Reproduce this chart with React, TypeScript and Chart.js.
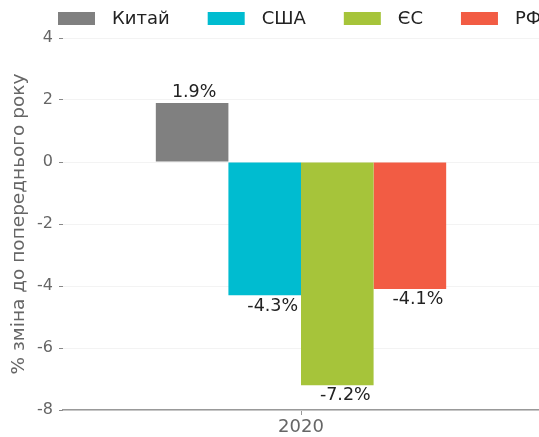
import React, { useEffect, useRef } from "react";
import { Chart, registerables } from "chart.js";

Chart.register(...registerables);

const categories = ["2020"];
const seriesNames = ["Китай", "США", "ЄС", "РФ"];
const seriesValues = [[1.9], [-4.3], [-7.2], [-4.1]];
const seriesColors = ["#808080", "#00bcd0", "#a6c43a", "#f25c44"];
const yTicks = [-8, -6, -4, -2, 0, 2, 4];
const yTitle = "% зміна до попереднього року";

const FONT = "'DejaVu Sans', sans-serif";

const legendPlugin = {
  id: "topLegend",
  afterDraw(chart: any) {
    const ctx = chart.ctx;
    ctx.save();
    ctx.font = `18px ${FONT}`;
    ctx.textBaseline = "middle";
    ctx.textAlign = "left";
    let x = 58;
    const y = 12;
    chart.data.datasets.forEach((ds: any) => {
      ctx.fillStyle = ds.backgroundColor;
      ctx.fillRect(x, y, 37, 13);
      ctx.fillStyle = "#222";
      ctx.fillText(ds.label, x + 54, y + 7);
      const w = ctx.measureText(ds.label).width;
      x = x + 54 + w + 38;
    });
    ctx.restore();
  },
};

const labelPlugin = {
  id: "barLabels",
  afterDatasetsDraw(chart: any) {
    const ctx = chart.ctx;
    ctx.save();
    ctx.font = `17.5px ${FONT}`;
    ctx.fillStyle = "#222";
    ctx.textAlign = "center";
    chart.data.datasets.forEach((ds: any, di: number) => {
      const meta = chart.getDatasetMeta(di);
      meta.data.forEach((bar: any, i: number) => {
        const v = ds.data[i];
        const txt = `${v}%`;
        if (v >= 0) {
          ctx.textBaseline = "bottom";
          ctx.fillText(txt, bar.x + 2, bar.y - 2);
        } else {
          ctx.textBaseline = "top";
          ctx.fillText(txt, bar.x + 8, bar.y + 2);
        }
      });
    });
    ctx.restore();
  },
};

export default function App() {
  const ref = useRef<HTMLCanvasElement>(null);
  useEffect(() => {
    if (!ref.current) return;
    const chart = new Chart(ref.current, {
      type: "bar",
      data: {
        labels: categories,
        datasets: seriesNames.map((n, i) => ({
          label: n,
          data: seriesValues[i],
          backgroundColor: seriesColors[i],
          borderWidth: 0,
          categoryPercentage: 0.61,
          barPercentage: 1,
        })),
      },
      options: {
        animation: false,
        responsive: true,
        maintainAspectRatio: false,
        layout: { padding: { top: 38, left: 0, right: 0, bottom: 0 } },
        plugins: {
          legend: { display: false },
          tooltip: { enabled: false },
        },
        scales: {
          x: {
            afterFit: (scale: any) => {
              scale.height = 27;
            },
            grid: {
              drawOnChartArea: false,
              offset: false,
              tickLength: 5,
              tickColor: "#999",
            },
            border: { display: true, color: "#999", width: 1.5 },
            ticks: { font: { family: FONT, size: 18 }, color: "#666", padding: 2 },
          },
          y: {
            min: yTicks[0],
            max: yTicks[yTicks.length - 1],
            afterBuildTicks: (scale: any) => {
              scale.ticks = yTicks.map((v) => ({ value: v }));
            },
            afterFit: (scale: any) => {
              scale.width = 63;
            },
            grid: { color: "#f3f3f3", tickColor: "#888", tickLength: 4 },
            border: { display: false },
            ticks: { font: { family: FONT, size: 16 }, color: "#666", padding: 6 },
            title: {
              display: true,
              text: yTitle,
              font: { family: FONT, size: 18.5 },
              color: "#666",
              padding: { top: 8, bottom: 0 },
            },
          },
        },
      },
      plugins: [legendPlugin, labelPlugin],
    });
    return () => chart.destroy();
  }, []);
  return (
    <div style={{ position: "absolute", left: 0, top: 0, width: 539, height: 437 }}>
      <canvas ref={ref} />
    </div>
  );
}
